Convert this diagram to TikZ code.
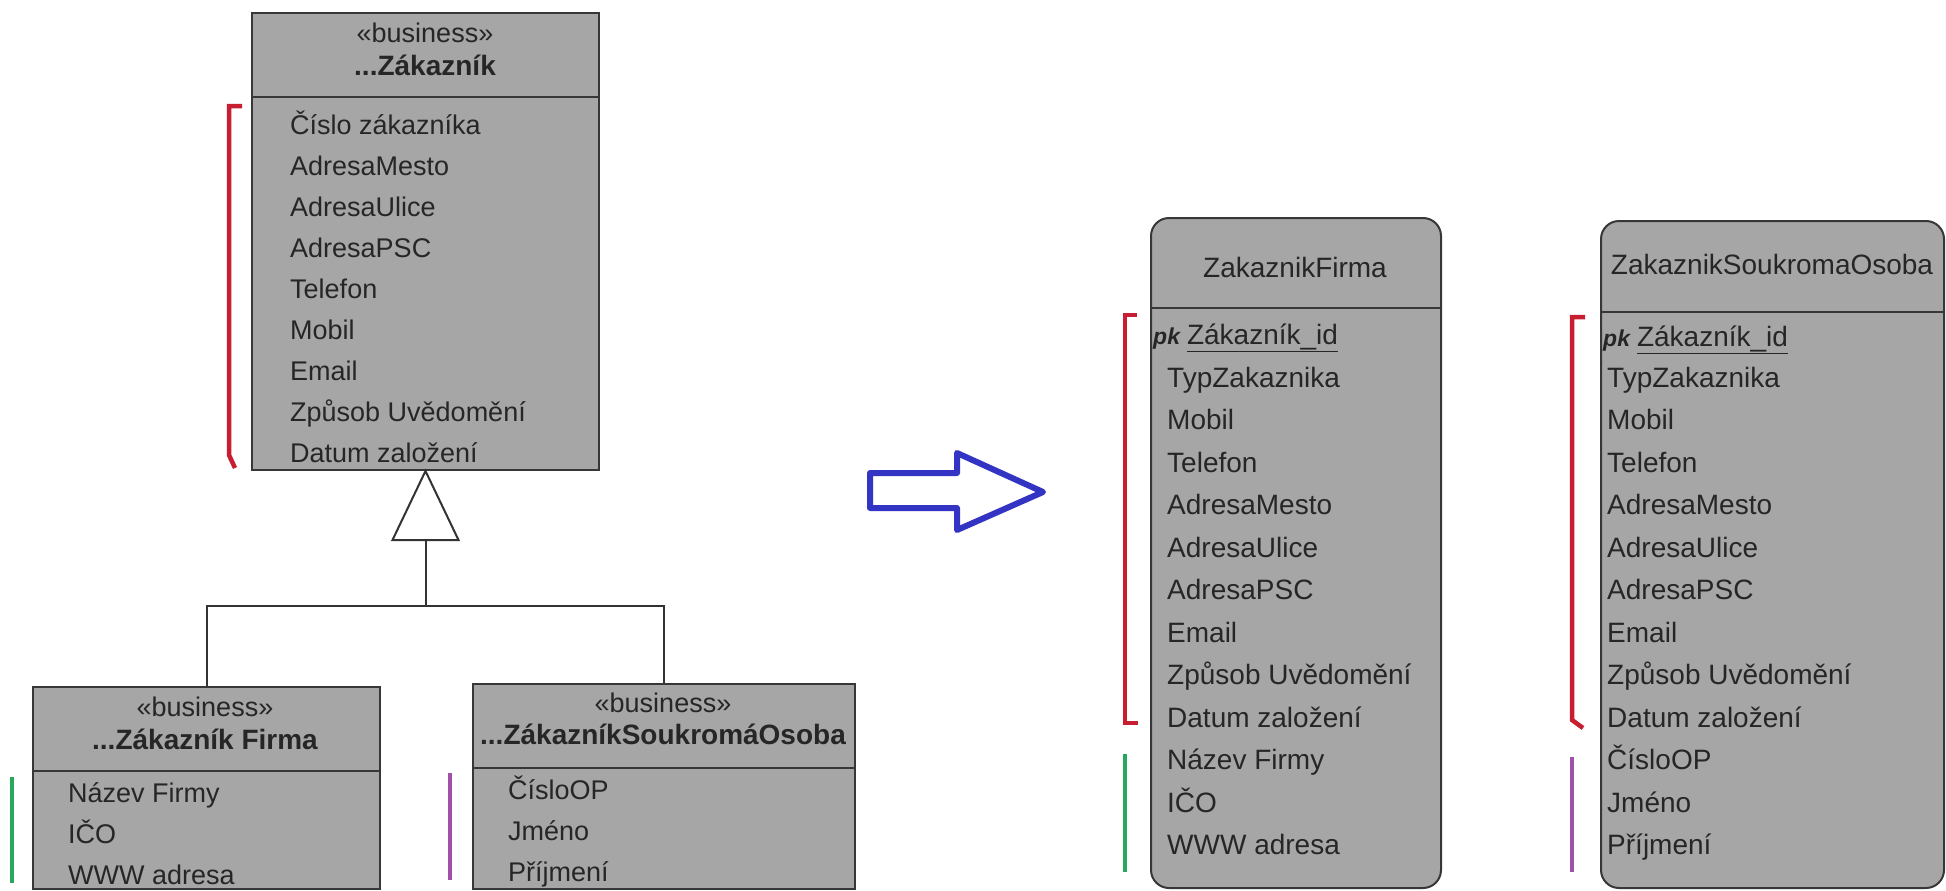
\documentclass[tikz,border=0pt]{standalone}
\usepackage{fontspec}
\setmainfont{Liberation Sans}
\usepackage{tikz}
\usetikzlibrary{
  positioning,
  calc,
  arrows.meta
}
\definecolor{boxgray}{RGB}{166,166,166}
\definecolor{boxline}{RGB}{55,55,55}
\definecolor{brred}{RGB}{200,30,50}
\definecolor{brgreen}{RGB}{40,168,90}
\definecolor{brpurple}{RGB}{160,80,170}
\definecolor{arrblue}{RGB}{52,52,196}
\tikzstyle{umlbox}=[rectangle, draw=boxline, fill=boxgray, line width=2pt, inner sep=0pt, anchor=north west]
\tikzstyle{erbox}=[umlbox, rounded corners=18pt]
\tikzstyle{sepline}=[draw=boxline, line width=2pt]
\tikzstyle{attr}=[anchor=west, inner sep=0pt, text height=19pt, text depth=0pt, text=black!85, font=\fontsize{27}{30}\selectfont]
\tikzstyle{erattr}=[attr, font=\fontsize{28}{30}\selectfont]
\tikzstyle{stereotype}=[attr, anchor=center]
\tikzstyle{clsname}=[attr, anchor=center, font=\bfseries\fontsize{28}{30}\selectfont]
\tikzstyle{conn}=[draw=black!80, line width=2pt]
\tikzstyle{bracket}=[line width=4.5pt]

\begin{document}
\begin{tikzpicture}[x=1pt, y=-1pt]
        \def\zrow{41};
        \def\errow{42.5};

        % 余白
        \useasboundingbox[fill=white] (0,0) rectangle (1946,891);

        % 上のクラス
        \node[umlbox, minimum width=347pt, minimum height=457pt] (zak) at (251,12) {};
        \draw[sepline] ($(zak.north west)+(0,85)$) -- ($(zak.north east)+(0,85)$);
        \node[stereotype] (zakst) at (425,33) {«business»};
        \node[clsname] (zakname) at (425,66) {...Zákazník};
        \foreach \t [count=\i from 0] in {Číslo zákazníka, AdresaMesto, AdresaUlice, AdresaPSC, Telefon, Mobil, Email, Způsob Uvědomění, Datum založení}
          \node[attr] (zak\i) at (290, {125+\zrow*\i}) {\t};

        % 下のクラス
        \node[umlbox, minimum width=347pt, minimum height=202pt] (firma) at (32,686) {};
        \draw[sepline] ($(firma.north west)+(0,85)$) -- ($(firma.north east)+(0,85)$);
        \node[stereotype] (firmast) at (205,707) {«business»};
        \node[clsname] (firmaname) at (205,740) {...Zákazník Firma};
        \foreach \t [count=\i from 0] in {Název Firmy, IČO, WWW adresa}
          \node[attr] (firma\i) at (68, {793+\zrow*\i}) {\t};

        \node[umlbox, minimum width=382pt, minimum height=205pt] (souk) at (472,683) {};
        \draw[sepline] ($(souk.north west)+(0,85)$) -- ($(souk.north east)+(0,85)$);
        \node[stereotype] (soukst) at (663,703) {«business»};
        \node[clsname] (soukname) at (663,735) {...ZákazníkSoukromáOsoba};
        \foreach \t [count=\i from 0] in {ČísloOP, Jméno, Příjmení}
          \node[attr] (souk\i) at (508, {790+\zrow*\i}) {\t};

        % 汎化
        \coordinate (gbase) at ($(zak.south)+(0,69)$);
        \coordinate (gjoin) at ($(gbase)+(0,66)$);
        \draw[conn, fill=white] (zak.south) -- ($(gbase)+(-33,0)$) -- ($(gbase)+(33,0)$) -- cycle;
        \draw[conn] (gbase) -- (gjoin);
        \draw[conn] (firma.north) |- (gjoin) -| (souk.north);

        % 青い矢印
        \draw[arrblue, line width=6pt, line join=round] (870,473) -- (957,473) -- (957,453) -- (1043,492) -- (957,530) -- (957,508) -- (870,508) -- cycle;

        % ERのテーブル
        \node[erbox, minimum width=290pt, minimum height=670pt] (erf) at (1150,217) {};
        \draw[sepline] ($(erf.north west)+(0,91)$) -- ($(erf.north east)+(0,91)$);
        \node[erattr, anchor=center] (erfname) at (1295,268) {ZakaznikFirma};
        \node[erattr] (erf0) at (1153,335) {{\fontsize{23}{23}\selectfont\bfseries\itshape pk}\hspace{7pt}\underline{Zákazník\_id}};
        \foreach \t [count=\i] in {TypZakaznika, Mobil, Telefon, AdresaMesto, AdresaUlice, AdresaPSC, Email, Způsob Uvědomění, Datum založení, Název Firmy, IČO, WWW adresa}
          \node[erattr] (erf\i) at (1167, {335+\errow*\i}) {\t};

        \node[erbox, minimum width=343pt, minimum height=667pt] (ers) at (1600,220) {};
        \draw[sepline] ($(ers.north west)+(0,92)$) -- ($(ers.north east)+(0,92)$);
        \node[erattr, anchor=center] (ersname) at (1772,265) {ZakaznikSoukromaOsoba};
        \node[erattr] (ers0) at (1603,337) {{\fontsize{23}{23}\selectfont\bfseries\itshape pk}\hspace{7pt}\underline{Zákazník\_id}};
        \foreach \t [count=\i] in {TypZakaznika, Mobil, Telefon, AdresaMesto, AdresaUlice, AdresaPSC, Email, Způsob Uvědomění, Datum založení, ČísloOP, Jméno, Příjmení}
          \node[erattr] (ers\i) at (1607, {335+\errow*\i}) {\t};

        % 色の括弧
        \draw[bracket, brred] (242,106) -- (229,106) -- (229,455) -- (235,468);
        \draw[bracket, brred] (1137,315) -- (1125,315) -- (1125,723) -- (1138,723);
        \draw[bracket, brred] (1585,317) -- (1572,317) -- (1572,720) -- (1583,728);
        \draw[bracket, brgreen] (12,777) -- (12,883);
        \draw[bracket, brgreen] (1125,754) -- (1125,872);
        \draw[bracket, brpurple] (450,773) -- (450,880);
        \draw[bracket, brpurple] (1572,757) -- (1572,872);
\end{tikzpicture}
\end{document}
